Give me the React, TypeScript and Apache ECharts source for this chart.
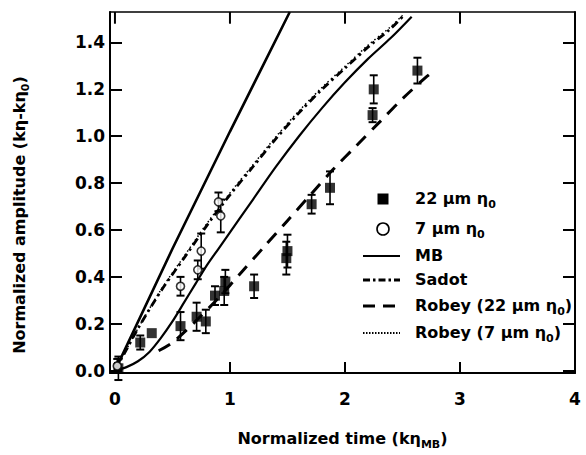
import React, { useEffect, useRef } from "react";
import * as echarts from "echarts";

// ---- Data ----
const xTicks = [0, 1, 2, 3, 4];
const yTicks = [0, 0.2, 0.4, 0.6, 0.8, 1.0, 1.2, 1.4];
const Y_MIN = -0.01;
const Y_MAX = 1.53;
const X_MIN = -0.043;
const X_MAX = 4;

// 22 µm η0 (filled squares) with error half-widths
const sq22X = [0.03, 0.22, 0.32, 0.57, 0.71, 0.79, 0.87, 0.95, 0.96, 1.21, 1.49, 1.5, 1.71, 1.87, 2.24, 2.25, 2.63];
const sq22Y = [0.01, 0.12, 0.16, 0.19, 0.23, 0.21, 0.32, 0.34, 0.38, 0.36, 0.48, 0.51, 0.71, 0.78, 1.09, 1.2, 1.28];
const sq22Err = [0.05, 0.03, 0, 0.06, 0.06, 0.05, 0.04, 0.06, 0.05, 0.05, 0.07, 0.07, 0.04, 0.07, 0.03, 0.06, 0.055];

// 7 µm η0 (open circles)
const c7X = [0.02, 0.57, 0.72, 0.75, 0.9, 0.92];
const c7Y = [0.02, 0.36, 0.43, 0.51, 0.72, 0.66];
const c7Err = [0.03, 0.04, 0.04, 0.075, 0.04, 0.07];

// Curves
const mbX = [0, 0.5, 1.0, 1.52];
const mbY = [0, 0.52, 1.02, 1.53];

const mb2X = [0, 0.1, 0.2, 0.3, 0.4, 0.5, 0.6, 0.7, 0.8, 0.9, 1.0, 1.2, 1.4, 1.6, 1.8, 2.0, 2.2, 2.4, 2.58];
const mb2Y = [0, 0.015, 0.04, 0.08, 0.14, 0.21, 0.29, 0.37, 0.45, 0.52, 0.59, 0.73, 0.87, 1.0, 1.12, 1.23, 1.33, 1.42, 1.51];

const sadotX = [0, 0.1, 0.2, 0.4, 0.6, 0.8, 1.0, 1.2, 1.4, 1.6, 1.8, 2.0, 2.2, 2.4, 2.5];
const sadotY = [0, 0.09, 0.18, 0.34, 0.48, 0.62, 0.75, 0.87, 0.99, 1.1, 1.2, 1.29, 1.38, 1.46, 1.51];

const robey7X = [0, 0.1, 0.2, 0.4, 0.6, 0.8, 1.0, 1.2, 1.4, 1.6, 1.8, 2.0, 2.2, 2.4, 2.5];
const robey7Y = [0, 0.09, 0.18, 0.345, 0.487, 0.628, 0.758, 0.878, 0.998, 1.108, 1.208, 1.298, 1.388, 1.468, 1.516];

const robey22X = [0.38, 0.5, 0.7, 0.9, 1.1, 1.3, 1.5, 1.7, 1.9, 2.1, 2.3, 2.5, 2.7, 2.78];
const robey22Y = [0.085, 0.12, 0.21, 0.31, 0.42, 0.53, 0.64, 0.75, 0.86, 0.96, 1.06, 1.16, 1.25, 1.28];

const FONT = "DejaVu Sans";

const zip = (xs: number[], ys: number[]) => xs.map((x, i) => [x, ys[i]]);
const zip3 = (xs: number[], ys: number[], es: number[]) =>
  xs.map((x, i) => [x, ys[i], es[i]]).filter((d) => d[2] > 0);

const richStyles = (size: number) => ({
  a: { fontFamily: FONT, fontWeight: "bold", fontSize: size, color: "#000", verticalAlign: "top", lineHeight: size + 2 },
  s: { fontFamily: FONT, fontWeight: "bold", fontSize: Math.round(size * 0.68), color: "#000", verticalAlign: "top", lineHeight: 12, padding: [9, 0, 0, 0] },
});

const errRender = (params: any, api: any) => {
  const x = api.value(0);
  const y = api.value(1);
  const e = api.value(2);
  const top = api.coord([x, y + e]);
  const bot = api.coord([x, y - e]);
  const hw = 4;
  return {
    type: "group",
    children: [
      { type: "line", shape: { x1: top[0], y1: top[1], x2: bot[0], y2: bot[1] }, style: { stroke: "#000", lineWidth: 1.6 } },
      { type: "line", shape: { x1: top[0] - hw, y1: top[1], x2: top[0] + hw, y2: top[1] }, style: { stroke: "#000", lineWidth: 2 } },
      { type: "line", shape: { x1: bot[0] - hw, y1: bot[1], x2: bot[0] + hw, y2: bot[1] }, style: { stroke: "#000", lineWidth: 2 } },
    ],
  };
};

// Mirror ticks on the top frame: a zero-length "error bar" style segment hanging from y max, through the scales
const topTickRender = (params: any, api: any) => {
  const top = api.coord([api.value(0), api.value(1)]);
  const bot = api.coord([api.value(0), api.value(2)]);
  return {
    type: "group",
    children: [
      { type: "line", shape: { x1: top[0], y1: top[1], x2: bot[0], y2: bot[1] }, style: { stroke: "#000", lineWidth: 2 } },
    ],
  };
};

export default function App() {
  const ref = useRef<HTMLDivElement>(null);
  useEffect(() => {
    if (!ref.current) return;
    const chart = echarts.init(ref.current, null, { renderer: "svg" });
    const axisLine = { show: true, onZero: false, lineStyle: { color: "#000", width: 2 } };
    const tickStyle = { color: "#000", width: 2 };
    const legX = 363;
    const legX2 = 400;
    const legText = 415;
    const rows = [199, 229, 256, 280, 306, 333];
    const option: any = {
      animation: false,
      backgroundColor: "#fff",
      grid: { left: 110, top: 12, right: 4.3, bottom: 76 },
      xAxis: [
        {
          type: "value",
          min: X_MIN,
          max: X_MAX,
          position: "bottom",
          axisLine,
          axisTick: { show: true, inside: true, length: 11, customValues: xTicks, lineStyle: tickStyle },
          axisLabel: {
            customValues: xTicks,
            fontFamily: FONT,
            fontWeight: "bold",
            fontSize: 17,
            color: "#000",
            margin: 17,
          },
          splitLine: { show: false },
          name: "{a|Normalized time (kη}{s|MB}{a|)}",
          nameLocation: "middle",
          nameGap: 57,
          nameTextStyle: { rich: richStyles(16) },
        },
        {
          type: "value",
          min: X_MIN,
          max: X_MAX,
          position: "top",
          axisLine: { show: true, onZero: false, lineStyle: { color: "#000", width: 1.5 } },
          axisTick: { show: false },
          axisLabel: { show: false },
          splitLine: { show: false },
        },
      ],
      yAxis: [
        {
          type: "value",
          min: Y_MIN,
          max: Y_MAX,
          position: "left",
          axisLine,
          axisTick: { show: true, inside: true, length: 12, customValues: yTicks, lineStyle: tickStyle },
          axisLabel: {
            customValues: yTicks,
            formatter: (v: number) => v.toFixed(1),
            fontFamily: FONT,
            fontWeight: "bold",
            fontSize: 17,
            color: "#000",
            margin: 5,
          },
          splitLine: { show: false },
        },
        {
          type: "value",
          min: Y_MIN,
          max: Y_MAX,
          position: "right",
          axisLine,
          axisTick: { show: true, inside: true, length: 12, customValues: yTicks, lineStyle: tickStyle },
          axisLabel: { show: true, customValues: yTicks, formatter: () => "" },
          splitLine: { show: false },
        },
      ],
      graphic: [
        {
          type: "text",
          x: 20,
          y: 215,
          rotation: Math.PI / 2,
          style: {
            text: "{a|Normalized amplitude (kη-kη}{s|0}{a|)}",
            rich: richStyles(16),
            align: "center",
            verticalAlign: "middle",
          },
        },
        { type: "rect", shape: { x: 383 - 5.5, y: rows[0] - 5.5, width: 11, height: 11 }, style: { fill: "#000" } },
        { type: "circle", shape: { cx: 383, cy: rows[1], r: 6 }, style: { fill: "#fff", stroke: "#000", lineWidth: 1.6 } },
        { type: "line", shape: { x1: legX, y1: rows[2], x2: legX2, y2: rows[2] }, style: { stroke: "#000", lineWidth: 2.2 } },
        { type: "line", shape: { x1: legX, y1: rows[3], x2: legX2, y2: rows[3] }, style: { stroke: "#000", lineWidth: 2.8, lineDash: [7, 3, 2.5, 3] } },
        { type: "line", shape: { x1: legX, y1: rows[4], x2: legX2, y2: rows[4] }, style: { stroke: "#000", lineWidth: 3, lineDash: [12, 8] } },
        { type: "line", shape: { x1: legX, y1: rows[5], x2: legX2, y2: rows[5] }, style: { stroke: "#000", lineWidth: 2.2, lineDash: [1.5, 1.5] } },
        { type: "text", x: legText, y: rows[0], style: { text: "{a|22 µm η}{s|0}", rich: richStyles(16), verticalAlign: "middle" } },
        { type: "text", x: legText, y: rows[1], style: { text: "{a|7 µm η}{s|0}", rich: richStyles(16), verticalAlign: "middle" } },
        { type: "text", x: legText, y: rows[2], style: { text: "{a|MB}", rich: richStyles(16), verticalAlign: "middle" } },
        { type: "text", x: legText, y: rows[3], style: { text: "{a|Sadot}", rich: richStyles(16), verticalAlign: "middle" } },
        { type: "text", x: legText, y: rows[4], style: { text: "{a|Robey (22 µm η}{s|0}{a|)}", rich: richStyles(16), verticalAlign: "middle" } },
        { type: "text", x: legText, y: rows[5], style: { text: "{a|Robey (7 µm η}{s|0}{a|)}", rich: richStyles(16), verticalAlign: "middle" } },
      ],
      series: [
        {
          name: "MB",
          type: "line",
          data: zip(mbX, mbY),
          showSymbol: false,
          symbol: "none",
          lineStyle: { color: "#000", width: 2.6 },
        },
        {
          name: "MB (curve)",
          type: "line",
          data: zip(mb2X, mb2Y),
          showSymbol: false,
          symbol: "none",
          smooth: 0.3,
          lineStyle: { color: "#000", width: 2.2 },
        },
        {
          name: "Robey (7 µm η0)",
          type: "line",
          data: zip(robey7X, robey7Y),
          showSymbol: false,
          symbol: "none",
          smooth: 0.3,
          lineStyle: { color: "#000", width: 1.5, type: [1.5, 3] },
        },
        {
          name: "Sadot",
          type: "line",
          data: zip(sadotX, sadotY),
          showSymbol: false,
          symbol: "none",
          smooth: 0.3,
          lineStyle: { color: "#000", width: 2.8, type: [8, 4, 2.5, 4] },
        },
        {
          name: "Robey (22 µm η0)",
          type: "line",
          data: zip(robey22X, robey22Y),
          showSymbol: false,
          symbol: "none",
          smooth: 0.3,
          lineStyle: { color: "#000", width: 3, type: [13, 9] },
        },
        {
          name: "err22",
          type: "custom",
          data: zip3(sq22X, sq22Y, sq22Err),
          renderItem: errRender,
          z: 3,
        },
        {
          name: "err7",
          type: "custom",
          data: zip3(c7X, c7Y, c7Err),
          renderItem: errRender,
          z: 3,
        },
        {
          name: "topTicks",
          type: "custom",
          data: xTicks.map((v) => [v, Y_MAX, Y_MAX - 0.05]),
          renderItem: topTickRender,
          silent: true,
          z: 5,
        },
        {
          name: "22 µm η0",
          type: "scatter",
          data: zip(sq22X, sq22Y),
          symbol: "rect",
          symbolSize: 10,
          itemStyle: { color: "#000" },
          z: 4,
        },
        {
          name: "7 µm η0",
          type: "scatter",
          data: zip(c7X, c7Y),
          symbol: "circle",
          symbolSize: 8,
          itemStyle: { color: "#fff", borderColor: "#000", borderWidth: 1.6 },
          z: 4,
        },
      ],
    };
    chart.setOption(option);
    return () => chart.dispose();
  }, []);
  return (
    <div
      ref={ref}
      style={{ position: "absolute", left: 0, top: 0, width: 586, height: 455, background: "#fff" }}
    />
  );
}
